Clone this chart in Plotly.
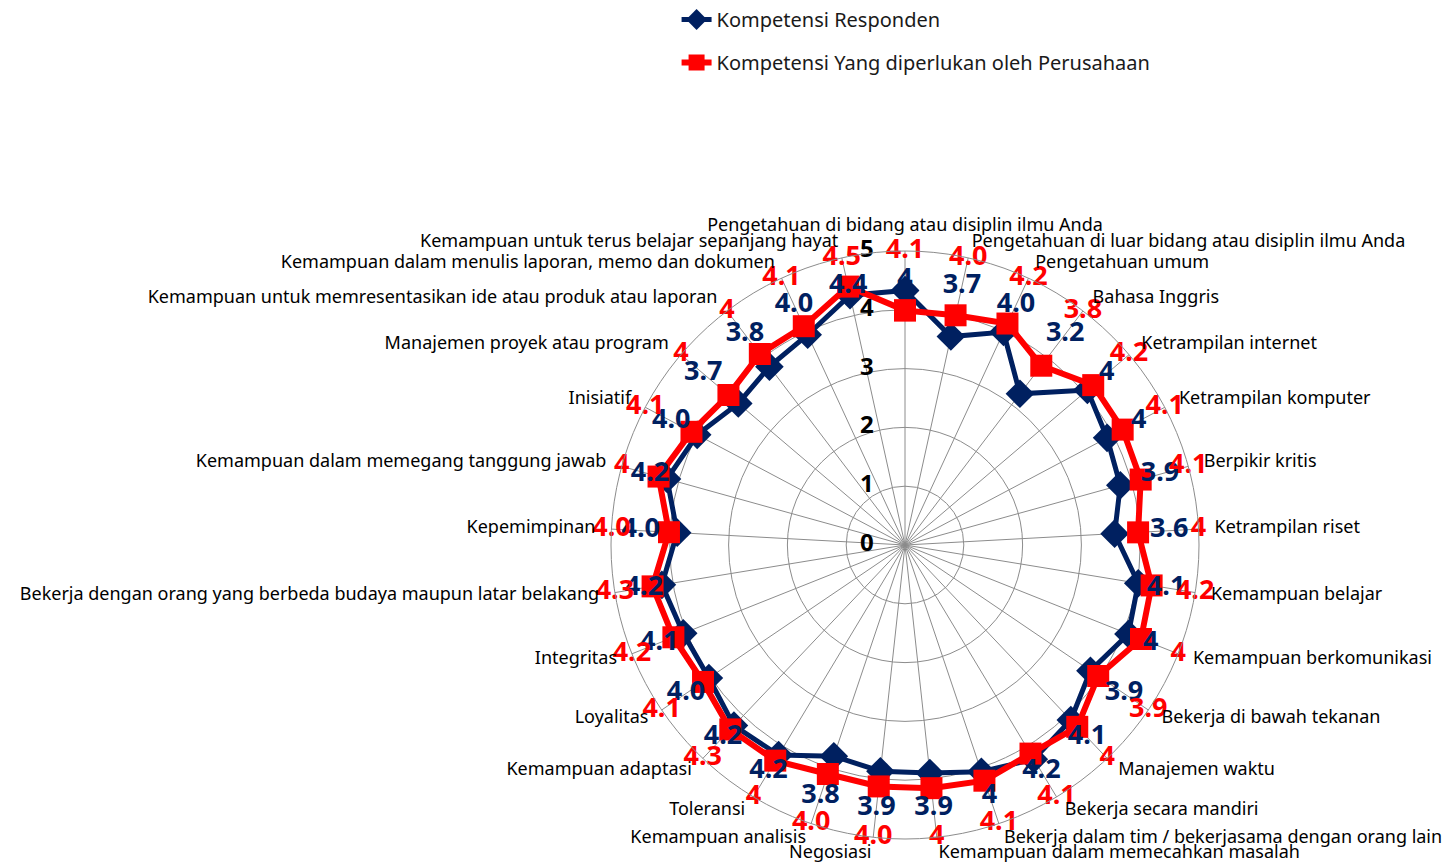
import plotly.graph_objects as go

categories = [
    "Pengetahuan di bidang atau disiplin ilmu Anda",
    "Pengetahuan di luar bidang atau disiplin ilmu Anda",
    "Pengetahuan umum",
    "Bahasa Inggris",
    "Ketrampilan internet",
    "Ketrampilan komputer",
    "Berpikir kritis",
    "Ketrampilan riset",
    "Kemampuan belajar",
    "Kemampuan berkomunikasi",
    "Bekerja di bawah tekanan",
    "Manajemen waktu",
    "Bekerja secara mandiri",
    "Bekerja dalam tim / bekerjasama dengan orang lain",
    "Kemampuan dalam memecahkan masalah",
    "Negosiasi",
    "Kemampuan analisis",
    "Toleransi",
    "Kemampuan adaptasi",
    "Loyalitas",
    "Integritas",
    "Bekerja dengan orang yang berbeda budaya maupun latar belakang",
    "Kepemimpinan",
    "Kemampuan dalam memegang tanggung jawab",
    "Inisiatif",
    "Manajemen proyek atau program",
    "Kemampuan untuk memresentasikan ide atau produk atau laporan",
    "Kemampuan dalam menulis laporan, memo dan dokumen",
    "Kemampuan untuk terus belajar sepanjang hayat",
]

responden = [4.33, 3.63, 3.99, 3.23, 4.07, 3.89, 3.80, 3.57, 4.02, 4.09,
             3.81, 4.10, 4.25, 4.07, 3.90, 3.87, 3.79, 4.17, 4.23, 4.03,
             4.06, 4.19, 3.88, 4.20, 4.00, 3.72, 3.81, 3.94, 4.35]
perusahaan = [3.99, 4.00, 4.15, 3.83, 4.20, 4.19, 4.16, 3.97, 4.25, 4.32,
              3.97, 4.26, 4.14, 4.23, 4.16, 4.13, 4.11, 4.28, 4.32, 4.15,
              4.24, 4.35, 4.02, 4.35, 4.11, 3.94, 4.08, 4.10, 4.50]

responden_labels = ["4", "3.7", "4.0", "3.2", "4", "4", "3.9", "3.6", "4.1", "4",
                    "3.9", "4.1", "4.2", "4", "3.9", "3.9", "3.8", "4.2", "4.2", "4.0",
                    "4.1", "4.2", "4.0", "4.2", "4.0", "3.7", "3.8", "4.0", "4.4"]
perusahaan_labels = ["4.1", "4.0", "4.2", "3.8", "4.2", "4.1", "4.1", "4", "4.2", "4",
                     "3.9", "4", "4.1", "4.1", "4", "4.0", "4.0", "4", "4.3", "4.1",
                     "4.2", "4.3", "4.0", "4", "4.1", "4", "4", "4.1", "4.5"]

radial_ticks = [0, 1, 2, 3, 4, 5]

NAVY = "#002060"
RED = "#FF0000"
GRID = "#8c8c8c"
FONT = "Noto Sans"
W, H = 1455, 865

# chart geometry (pixels)
CX, CY, R_PLOT = 905, 545, 294
R_LABEL = 310
GAP = "\u00a0" * 5


def domain(radius):
    cy_paper = (H - CY) / H
    return dict(x=[(CX - radius) / W, (CX + radius) / W],
                y=[cy_paper - radius / H, cy_paper + radius / H])


n = len(categories)
theta_closed = categories + categories[:1]

# category label anchoring: top centred, right half left-aligned, left half right-aligned
cat_positions = ["top center"] + ["middle right"] * 14 + ["middle left"] * 14

fig = go.Figure()
fig.add_trace(go.Scatterpolar(
    r=responden + responden[:1], theta=theta_closed,
    mode="lines+markers", name="Kompetensi Responden", legendgroup="a",
    line=dict(color=NAVY, width=5),
    marker=dict(symbol="diamond", size=22, color=NAVY),
))
fig.add_trace(go.Scatterpolar(
    r=perusahaan + perusahaan[:1], theta=theta_closed,
    mode="lines+markers", name="Kompetensi Yang diperlukan oleh Perusahaan",
    legendgroup="b",
    line=dict(color=RED, width=6),
    marker=dict(symbol="square", size=22, color=RED),
))
fig.add_trace(go.Scatterpolar(
    r=[4.5] * n, theta=categories, mode="text",
    text=responden_labels, showlegend=False, hoverinfo="skip", cliponaxis=False,
    textfont=dict(family=FONT, size=27, color=NAVY, weight="bold"),
))
fig.add_trace(go.Scatterpolar(
    r=[5.0] * n, theta=categories, mode="text",
    text=perusahaan_labels, showlegend=False, hoverinfo="skip", cliponaxis=False,
    textfont=dict(family=FONT, size=27, color=RED, weight="bold"),
))
# radial scale numbers, left of the vertical spoke
fig.add_trace(go.Scatterpolar(
    r=radial_ticks, theta=[categories[0]] * len(radial_ticks), mode="text",
    text=[f"{t}{GAP}" for t in radial_ticks], textposition="middle left",
    showlegend=False, hoverinfo="skip", cliponaxis=False,
    textfont=dict(family=FONT, size=24, color="black", weight="bold"),
))
# category names on an invisible, slightly larger concentric polar
fig.add_trace(go.Scatterpolar(
    r=[1.0] * n, theta=categories, mode="text", subplot="polar2",
    text=categories, textposition=cat_positions,
    showlegend=False, hoverinfo="skip", cliponaxis=False,
    textfont=dict(family=FONT, size=18, color="black"),
))

fig.update_layout(
    width=W, height=H,
    margin=dict(l=0, r=0, t=0, b=0),
    paper_bgcolor="white",
    font=dict(family=FONT, color="black"),
    showlegend=True,
    legend=dict(x=0.465, y=1.0, xanchor="left", yanchor="top",
                font=dict(family=FONT, size=20, color="#1a1a1a"),
                bgcolor="rgba(0,0,0,0)", tracegroupgap=14, traceorder="grouped"),
    polar=dict(
        domain=domain(R_PLOT),
        bgcolor="white",
        angularaxis=dict(
            direction="clockwise", rotation=90,
            showline=True, linecolor=GRID, linewidth=1,
            showgrid=True, gridcolor=GRID, gridwidth=1,
            ticks="", showticklabels=False,
        ),
        radialaxis=dict(
            range=[0, 5], tickvals=radial_ticks, angle=90,
            showline=False, showgrid=True, gridcolor=GRID, gridwidth=1,
            ticks="", showticklabels=False,
        ),
    ),
    polar2=dict(
        domain=domain(R_LABEL),
        bgcolor="rgba(0,0,0,0)",
        angularaxis=dict(direction="clockwise", rotation=90, categoryarray=categories,
                         showline=False, showgrid=False, showticklabels=False, ticks=""),
        radialaxis=dict(range=[0, 1], visible=False),
    ),
)

fig.write_html("out.html", config={"displayModeBar": False},
               post_script="document.body.style.margin='0';")
